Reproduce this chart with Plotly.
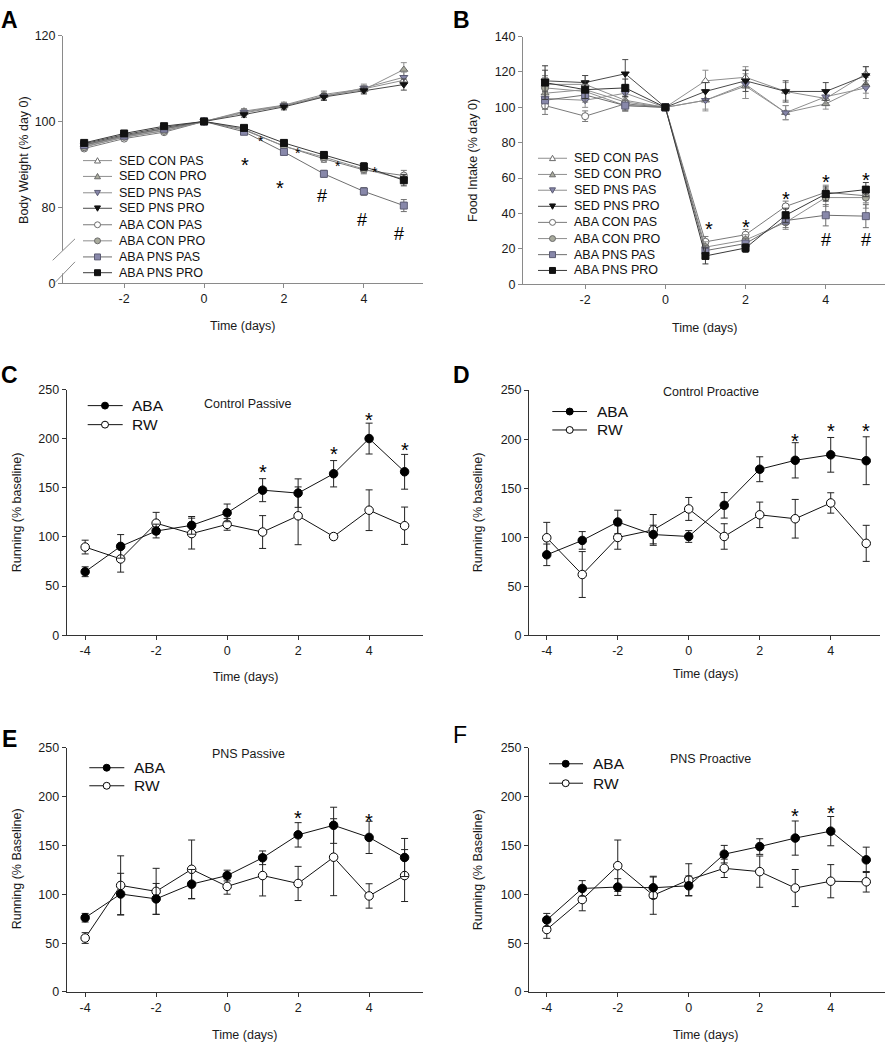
import plotly.graph_objects as go

W, H = 886, 1050
FONT = "Arial, Liberation Sans, Helvetica, sans-serif"

# ------------------------------------------------------------------ data
days_ab = [-3, -2, -1, 0, 1, 2, 3, 4, 5]
days_run = [-4, -3, -2, -1, 0, 1, 2, 3, 4, 5]

group_names = ["SED CON PAS", "SED CON PRO", "SED PNS PAS", "SED PNS PRO",
               "ABA CON PAS", "ABA CON PRO", "ABA PNS PAS", "ABA PNS PRO"]

# Panel A: body weight (% day 0)
bw_sed_con_pas = [94.2, 96.3, 97.9, 100, 102.4, 103.8, 106.3, 107.6, 109.6]
bw_sed_con_pro = [94.6, 96.6, 98.3, 100, 102.0, 103.6, 106.0, 107.4, 112.1]
bw_sed_pns_pas = [94.4, 96.5, 98.2, 100, 102.2, 103.7, 105.8, 107.8, 110.3]
bw_sed_pns_pro = [94.8, 96.9, 98.6, 100, 101.6, 103.4, 105.7, 107.2, 108.6]
bw_aba_con_pas = [93.7, 96.0, 97.5, 100, 98.0, 94.3, 91.3, 88.7, 87.4]
bw_aba_con_pro = [94.0, 96.4, 97.8, 100, 98.2, 94.2, 91.7, 88.9, 86.6]
bw_aba_pns_pas = [94.5, 96.7, 98.3, 100, 97.6, 92.9, 87.8, 83.7, 80.4]
bw_aba_pns_pro = [95.0, 97.2, 98.9, 100, 98.5, 95.0, 92.2, 89.5, 86.3]

bw_err_sed_con_pas = [0.5, 0.5, 0.5, 0, 0.6, 0.7, 0.8, 0.8, 1.0]
bw_err_sed_con_pro = [0.5, 0.5, 0.5, 0, 0.6, 0.7, 0.9, 0.8, 1.6]
bw_err_sed_pns_pas = [0.5, 0.5, 0.5, 0, 0.6, 0.7, 0.8, 0.9, 1.2]
bw_err_sed_pns_pro = [0.5, 0.5, 0.5, 0, 0.6, 0.7, 0.8, 0.8, 1.3]
bw_err_aba_con_pas = [0.5, 0.5, 0.5, 0, 0.5, 0.6, 0.8, 0.9, 1.2]
bw_err_aba_con_pro = [0.5, 0.5, 0.5, 0, 0.5, 0.6, 0.8, 0.9, 1.1]
bw_err_aba_pns_pas = [0.5, 0.5, 0.5, 0, 0.6, 0.7, 0.8, 0.9, 1.4]
bw_err_aba_pns_pro = [0.5, 0.5, 0.5, 0, 0.5, 0.7, 0.8, 0.9, 1.3]

# Panel B: food intake (% day 0)
fi_sed_con_pas = [113, 113, 104, 100, 115, 117, 109, 105, 119]
fi_sed_con_pro = [108, 110, 103, 100, 104, 112, 97, 102, 113]
fi_sed_pns_pas = [105, 104, 108, 100, 104, 113, 97, 106, 111]
fi_sed_pns_pro = [115, 114, 119, 100, 109, 115, 109, 109, 118]
fi_aba_con_pas = [101, 95, 102, 100, 24, 28, 44, 52, 50]
fi_aba_con_pro = [111, 109, 101, 100, 21, 25, 35, 49, 49]
fi_aba_pns_pas = [104, 107, 101, 100, 19, 23, 36, 39, 38.5]
fi_aba_pns_pro = [114, 110, 111, 100, 16, 20.5, 39, 51, 53.5]

fi_err_sed_con_pas = [5, 5, 4, 0, 6, 6, 5, 4, 4]
fi_err_sed_con_pro = [6, 5, 4, 0, 5, 7, 4, 3, 5]
fi_err_sed_pns_pas = [6, 4, 5, 0, 6, 8, 4, 4, 6]
fi_err_sed_pns_pro = [6, 4, 8, 0, 5, 6, 6, 5, 5]
fi_err_aba_con_pas = [5, 3, 4, 0, 3, 3, 3, 4, 4]
fi_err_aba_con_pro = [6, 4, 3, 0, 3, 3, 4, 5, 6]
fi_err_aba_pns_pas = [5, 4, 3, 0, 3, 3, 4, 6, 6.5]
fi_err_aba_pns_pro = [9.5, 5, 5, 0, 4.5, 2.5, 4, 4, 4]

# Panels C-F: running (% baseline)
c_aba = [64.6, 90.4, 106, 111.8, 124.5, 147.6, 144.6, 164.3, 200.1, 166.3]
c_aba_err = [5, 12, 7, 9, 9, 11.7, 14.5, 13.4, 15.7, 17.7]
c_rw = [89.7, 77.6, 114, 103.4, 112.8, 105, 121.5, 100.4, 127.2, 111.4]
c_rw_err = [7, 13.4, 11, 15.7, 6, 16.7, 29.4, 3, 20.7, 19]

d_aba = [82, 96.7, 115.5, 102.7, 100.7, 132.5, 169.3, 178.4, 184, 178]
d_aba_err = [11, 9, 12, 9.5, 6, 13, 12.7, 18, 17.7, 24.4]
d_rw = [99.4, 61.9, 99.7, 107.4, 128.8, 100.7, 122.8, 118.8, 134.9, 93.7]
d_rw_err = [15.7, 23.4, 12, 15.7, 11.7, 13, 13, 19.7, 10.4, 18.4]

e_aba = [76.1, 100.4, 95.4, 110.5, 119.3, 137.5, 161, 170.8, 158.4, 137.8]
e_aba_err = [4.4, 21.2, 15.8, 15, 5.5, 7, 12.5, 18.5, 16.5, 19.5]
e_rw = [55.3, 109.2, 103.1, 125.7, 108.2, 119.3, 111.2, 138.1, 98.4, 119.3]
e_rw_err = [5.5, 30.3, 23.6, 30, 8, 20.9, 17.5, 39.4, 12.5, 26.6]

f_aba = [73.8, 106.1, 107.5, 106.8, 108.8, 141.2, 149, 157.7, 164.8, 135.4]
f_aba_err = [6.7, 8, 8.6, 11, 10, 9, 8, 17.5, 15, 13]
f_rw = [64, 94.7, 129.4, 99.1, 114.9, 126.7, 123.3, 106.5, 113.5, 112.9]
f_rw_err = [9, 11.5, 26.3, 19.5, 16.5, 9.4, 16, 19, 17, 10.5]

# significance marks (x, y)
a_star_x, a_star_y = [1.03, 1.9], [91, 85.7]
a_small_star_x, a_small_star_y = [1.43, 2.36, 3.36, 4.28], [96.2, 93.3, 90.4, 89.0]
a_hash_x, a_hash_y = [2.94, 3.96, 4.88], [82.8, 77.2, 74.0]
b_star_x, b_star_y = [1.1, 2.0, 3.0, 4.0, 5.0], [34, 35, 50.8, 60.4, 61.5]
b_hash_x, b_hash_y = [4, 5], [25.7, 25.7]
c_star_x, c_star_y = [1, 3, 4, 5], [170.7, 189, 224, 194]
d_star_x, d_star_y = [3, 4, 5], [203, 213.5, 213.5]
e_star_x, e_star_y = [2, 4], [183, 180]
f_star_x, f_star_y = [3, 4], [185.3, 189]

# tick values
ab_xticks = [-2, 0, 2, 4]
run_xticks = [-4, -2, 0, 2, 4]
a_yticks = [80, 100, 120]
b_yticks = [0, 20, 40, 60, 80, 100, 120, 140]
run_yticks = [0, 50, 100, 150, 200, 250]

# position standing in for "0" below the axis break in panel A
A_BREAK_ZERO = 62.3

# ------------------------------------------------------------------ helpers
def px(x):
    return x / W


def py(y):
    return 1 - y / H


def lab(v):
    return str(v)  # plain hyphen-minus, as in the original


bw_vals = dict(zip(group_names, [bw_sed_con_pas, bw_sed_con_pro, bw_sed_pns_pas, bw_sed_pns_pro,
                                 bw_aba_con_pas, bw_aba_con_pro, bw_aba_pns_pas, bw_aba_pns_pro]))
bw_errs = dict(zip(group_names, [bw_err_sed_con_pas, bw_err_sed_con_pro, bw_err_sed_pns_pas, bw_err_sed_pns_pro,
                                 bw_err_aba_con_pas, bw_err_aba_con_pro, bw_err_aba_pns_pas, bw_err_aba_pns_pro]))
fi_vals = dict(zip(group_names, [fi_sed_con_pas, fi_sed_con_pro, fi_sed_pns_pas, fi_sed_pns_pro,
                                 fi_aba_con_pas, fi_aba_con_pro, fi_aba_pns_pas, fi_aba_pns_pro]))
fi_errs = dict(zip(group_names, [fi_err_sed_con_pas, fi_err_sed_con_pro, fi_err_sed_pns_pas, fi_err_sed_pns_pro,
                                 fi_err_aba_con_pas, fi_err_aba_con_pro, fi_err_aba_pns_pas, fi_err_aba_pns_pro]))

styles = {
    "SED CON PAS": dict(symbol="triangle-up", fill="#ffffff", outline="#6a6a6a", line="#8e8e8e"),
    "SED CON PRO": dict(symbol="triangle-up", fill="#a9ab9d", outline="#6a6a6a", line="#8e8e8e"),
    "SED PNS PAS": dict(symbol="triangle-down", fill="#8686a8", outline="#5c5c74", line="#8e8e8e"),
    "SED PNS PRO": dict(symbol="triangle-down", fill="#111111", outline="#111111", line="#4a4a4a"),
    "ABA CON PAS": dict(symbol="circle", fill="#ffffff", outline="#6a6a6a", line="#7a7a7a"),
    "ABA CON PRO": dict(symbol="circle", fill="#a9ab9d", outline="#6a6a6a", line="#8e8e8e"),
    "ABA PNS PAS": dict(symbol="square", fill="#8888aa", outline="#5c5c74", line="#6e6e6e"),
    "ABA PNS PRO": dict(symbol="square", fill="#111111", outline="#111111", line="#3a3a3a"),
}

fig = go.Figure()

panels = {
    "A": dict(ax="", xd=(63, 423), yd=(29, 280), xr=(-3.53, 5.48), yr=(A_BREAK_ZERO, 120)),
    "B": dict(ax="2", xd=(523, 884.7), yd=(30, 281), xr=(-3.55, 5.47), yr=(0, 140)),
    "C": dict(ax="3", xd=(66.7, 422.7), yd=(387.7, 636.7), xr=(-4.52, 5.51), yr=(0, 250)),
    "D": dict(ax="4", xd=(529, 879.7), yd=(388.3, 636.7), xr=(-4.5, 5.38), yr=(0, 250)),
    "E": dict(ax="5", xd=(66.7, 422.7), yd=(751, 998.3), xr=(-4.52, 5.51), yr=(0, 250)),
    "F": dict(ax="6", xd=(529, 884.7), yd=(751, 998.3), xr=(-4.5, 5.52), yr=(0, 250)),
}

layout_axes = {}
for key, p in panels.items():
    light = key in ("A", "B")
    axcol = "#8a8a8a" if light else "#333333"
    common = dict(showgrid=False, zeroline=False, showline=True, linecolor=axcol, linewidth=1,
                  ticks="outside", ticklen=4, tickcolor=axcol, tickwidth=1,
                  tickfont=dict(family=FONT, size=12.5, color="#1a1a1a"), fixedrange=True)
    xt = ab_xticks if light else run_xticks
    xa = dict(common, domain=[px(p["xd"][0]), px(p["xd"][1])], anchor="y" + p["ax"],
              range=list(p["xr"]), tickmode="array", tickvals=xt, ticktext=[lab(v) for v in xt])
    ya = dict(common, domain=[py(p["yd"][1]), py(p["yd"][0])], anchor="x" + p["ax"],
              range=list(p["yr"]))
    if key == "A":
        ya.update(tickmode="array", tickvals=[A_BREAK_ZERO] + a_yticks,
                  ticktext=["0"] + [lab(v) for v in a_yticks])
    elif key == "B":
        ya.update(tickmode="array", tickvals=b_yticks, ticktext=[lab(v) for v in b_yticks])
    else:
        ya.update(tickmode="array", tickvals=run_yticks, ticktext=[lab(v) for v in run_yticks])
    layout_axes["xaxis" + p["ax"]] = xa
    layout_axes["yaxis" + p["ax"]] = ya

# ---- panels A and B
for key, vals, errs in (("A", bw_vals, bw_errs), ("B", fi_vals, fi_errs)):
    ax = panels[key]["ax"]
    for g in group_names:
        s = styles[g]
        fig.add_trace(go.Scatter(
            x=days_ab, y=vals[g], name=g, mode="lines+markers",
            xaxis="x" + ax, yaxis="y" + ax, showlegend=False,
            line=dict(color=s["line"], width=1),
            marker=dict(symbol=s["symbol"], size=7, color=s["fill"],
                        line=dict(color=s["outline"], width=1)),
            error_y=dict(type="data", array=errs[g], visible=True, color=s["line"],
                         thickness=1, width=3),
        ))

# ---- panels C-F
run_data = {
    "C": (c_aba, c_aba_err, c_rw, c_rw_err),
    "D": (d_aba, d_aba_err, d_rw, d_rw_err),
    "E": (e_aba, e_aba_err, e_rw, e_rw_err),
    "F": (f_aba, f_aba_err, f_rw, f_rw_err),
}
for key, (aba, aba_e, rw, rw_e) in run_data.items():
    ax = panels[key]["ax"]
    for name, vals, errs, fill in (("RW", rw, rw_e, "#ffffff"), ("ABA", aba, aba_e, "#000000")):
        fig.add_trace(go.Scatter(
            x=days_run, y=vals, name=name, mode="lines+markers",
            xaxis="x" + ax, yaxis="y" + ax, showlegend=False,
            line=dict(color="#111111", width=1),
            marker=dict(symbol="circle", size=8.5, color=fill, line=dict(color="#000000", width=1)),
            error_y=dict(type="data", array=errs, visible=True, color="#222222",
                         thickness=1, width=3.5),
        ))

annotations = []
shapes = []


def text(x, y, s, size=12.5, xanchor="center", yanchor="middle", angle=0, bold=False, color="#1a1a1a"):
    annotations.append(dict(x=px(x), y=py(y), xref="paper", yref="paper", text=s, showarrow=False,
                            xanchor=xanchor, yanchor=yanchor, textangle=angle,
                            font=dict(family=FONT, size=size, color=color,
                                      weight="bold" if bold else "normal")))


def marks(ax, xs, ys, s, size, yshift):
    for x, y in zip(xs, ys):
        annotations.append(dict(x=x, y=y, xref="x" + ax, yref="y" + ax, text=s, showarrow=False,
                                xanchor="center", yanchor="middle", yshift=yshift,
                                font=dict(family=FONT, size=size, color="#000000")))


# panel letters
text(9, 13, "A", size=23, bold=True, color="#000")
text(461, 13, "B", size=23, bold=True, color="#000")
text(9, 373, "C", size=23, bold=True, color="#000")
text(461, 373, "D", size=23, bold=True, color="#000")
text(9, 742, "E", size=23, bold=True, color="#000")
text(460, 738, "F", size=23, bold=False, color="#000")

# axis titles
text(24, 155, "Body Weight (% day 0)", angle=-90)
text(243, 323, "Time (days)")
text(473, 156, "Food Intake (% day 0)", angle=-90)
text(705, 325, "Time (days)")
text(17, 512, "Running (% baseline)", angle=-90)
text(246, 679, "Time (days)")
text(478, 512, "Running (% baseline)", angle=-90)
text(706, 676, "Time (days)")
text(17, 874, "Running (% Baseline)", angle=-90)
text(245, 1042, "Time (days)")
text(478, 874, "Running (% Baseline)", angle=-90)
text(706, 1042, "Time (days)")

# sub-titles
text(248.3, 402.3, "Control Passive")
text(711.3, 390.7, "Control Proactive")
text(248.3, 757.3, "PNS Passive")
text(710.7, 761.7, "PNS Proactive")

# significance marks
marks("", a_star_x, a_star_y, "*", 20, -5)
marks("", a_small_star_x, a_small_star_y, "*", 14, -3)
marks("", a_hash_x, a_hash_y, "#", 18, -1)
marks("2", b_star_x, b_star_y, "*", 20, -5)
marks("2", b_hash_x, b_hash_y, "#", 18, -1)
marks("3", c_star_x, c_star_y, "*", 20, -5)
marks("4", d_star_x, d_star_y, "*", 20, -5)
marks("5", e_star_x, e_star_y, "*", 20, -5)
marks("6", f_star_x, f_star_y, "*", 20, -5)


# ---- manual legends (keys drawn as shapes in paper space)
def key_marker(symbol, cx, cy, size, fill, outline):
    h = size / 2
    if symbol == "circle":
        shapes.append(dict(type="circle", xref="paper", yref="paper", x0=px(cx - h), x1=px(cx + h),
                           y0=py(cy + h), y1=py(cy - h), fillcolor=fill, line=dict(color=outline, width=1)))
    elif symbol == "square":
        shapes.append(dict(type="rect", xref="paper", yref="paper", x0=px(cx - h), x1=px(cx + h),
                           y0=py(cy + h), y1=py(cy - h), fillcolor=fill, line=dict(color=outline, width=1)))
    else:
        if symbol == "triangle-up":
            pts = [(cx, cy - h), (cx - h, cy + h * 0.8), (cx + h, cy + h * 0.8)]
        else:
            pts = [(cx, cy + h), (cx - h, cy - h * 0.8), (cx + h, cy - h * 0.8)]
        path = "M " + " L ".join(f"{px(a)},{py(b)}" for a, b in pts) + " Z"
        shapes.append(dict(type="path", xref="paper", yref="paper", path=path, fillcolor=fill,
                           line=dict(color=outline, width=1)))


def legend(entries, ys, x0, x1, xm, xt, size, msize):
    for (label, sym, fill, outline, lcol), y in zip(entries, ys):
        shapes.append(dict(type="line", xref="paper", yref="paper", x0=px(x0), x1=px(x1),
                           y0=py(y), y1=py(y), line=dict(color=lcol, width=1)))
        key_marker(sym, xm, y, msize, fill, outline)
        text(xt, y, label, size=size, xanchor="left", color="#111")


ab_entries = [(g, styles[g]["symbol"], styles[g]["fill"], styles[g]["outline"], styles[g]["line"])
              for g in group_names]
legend(ab_entries, [155.7, 171.7, 188.3, 204, 220.7, 237, 253.3, 269.3], 83, 112, 97.5, 117, 12.5, 6)
legend(ab_entries, [153.3, 169.7, 185.7, 202, 218.3, 234.7, 251, 267], 538, 567, 552.5, 572, 12.5, 6)

run_entries = [("ABA", "circle", "#000000", "#000000", "#111111"),
               ("RW", "circle", "#ffffff", "#000000", "#111111")]
legend(run_entries, [404, 423.3], 87.7, 122.7, 105, 129.5, 15.5, 7)
legend(run_entries, [410, 428.7], 552.3, 587, 569.7, 594.5, 15.5, 7)
legend(run_entries, [771, 789.3], 89.3, 124.3, 106.7, 131.5, 15.5, 7)
legend(run_entries, [767, 786.7], 549, 583, 565.7, 591, 15.5, 7)

# axis break in panel A
shapes.append(dict(type="rect", xref="paper", yref="paper", x0=px(60.5), x1=px(65.5),
                   y0=py(270), y1=py(247), fillcolor="#ffffff", line=dict(width=0)))
shapes.append(dict(type="line", xref="paper", yref="paper", x0=px(52.7), y0=py(256.7),
                   x1=px(75), y1=py(235), line=dict(color="#8a8a8a", width=1)))
shapes.append(dict(type="line", xref="paper", yref="paper", x0=px(55), y0=py(279.3),
                   x1=px(75), y1=py(258.3), line=dict(color="#8a8a8a", width=1)))

fig.update_layout(
    width=W, height=H, margin=dict(l=0, r=0, t=0, b=0),
    paper_bgcolor="#ffffff", plot_bgcolor="#ffffff",
    font=dict(family=FONT, size=12, color="#1a1a1a"),
    showlegend=False, annotations=annotations, shapes=shapes,
    **layout_axes,
)

fig.write_html("out.html", config={"displayModeBar": False, "staticPlot": True},
               post_script="document.body.style.margin='0px';")
